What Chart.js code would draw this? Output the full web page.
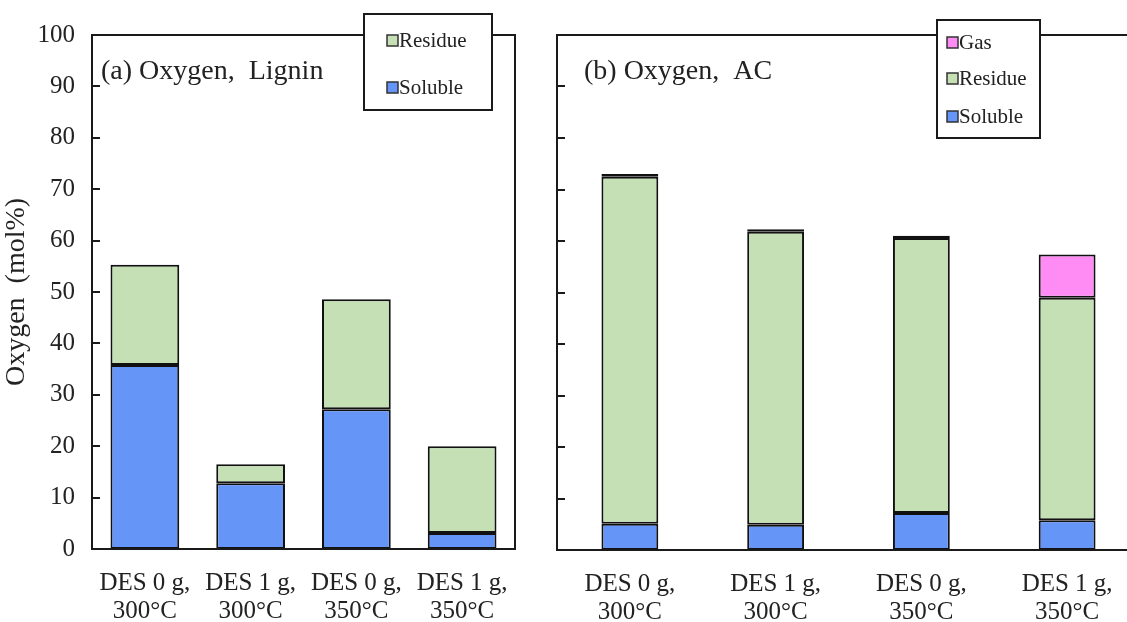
<!DOCTYPE html>
<html>
<head>
<meta charset="utf-8">
<script src="https://cdn.jsdelivr.net/npm/chart.js@4.4.1/dist/chart.umd.min.js"></script>
<style>
  html, body { margin: 0; padding: 0; background: #fff; overflow: hidden; }
  #wrap { position: relative; width: 1127px; height: 622px; overflow: hidden; }
  #boxA { position: absolute; left: 0; top: 0; width: 540px; height: 622px; }
  #boxB { position: absolute; left: 540px; top: 0; width: 625px; height: 622px; }
</style>
</head>
<body>
<div id="wrap">
  <div id="boxA"><canvas id="chartA"></canvas></div>
  <div id="boxB"><canvas id="chartB"></canvas></div>
</div>
<script>
// categories (two-line labels)
const categories = [
  ["DES 0 g,", "300\u00B0C"],
  ["DES 1 g,", "300\u00B0C"],
  ["DES 0 g,", "350\u00B0C"],
  ["DES 1 g,", "350\u00B0C"]
];
const yTicks = [0, 10, 20, 30, 40, 50, 60, 70, 80, 90, 100];

// (a) Lignin
const ligninSoluble = [35.8, 12.8, 27.2, 3.1];
const ligninResidue = [19.5, 3.7, 21.4, 16.9];

// (b) AC
const acSoluble = [5.1, 4.9, 7.2, 5.8];
const acResidue = [67.4, 56.9, 53.4, 43.2];
const acGas = [0.5, 0.5, 0.4, 8.4];

const colSoluble = "#6495f7";
const colResidue = "#c5e0b4";
const colGas = "#ff8cf4";
const serif = "'Liberation Serif', 'Times New Roman', serif";

Chart.defaults.font.family = serif;
Chart.defaults.color = "#222";

function ds(label, data, color) {
  return {
    label: label,
    data: data,
    backgroundColor: color,
    borderColor: "#111",
    borderWidth: 2,
    borderSkipped: false
  };
}

// frame, inward ticks, panel title and legend box
function panelPlugin(title, legendBox) {
  return {
    id: "panel",
    afterDraw(chart) {
      const c = chart.ctx;
      const a = chart.chartArea;
      const y = chart.scales.y;
      c.save();
      c.strokeStyle = "#1a1a1a";
      c.lineWidth = 2;
      c.strokeRect(a.left, a.top, a.right - a.left, a.bottom - a.top);
      yTicks.slice(1, -1).forEach(v => {
        const py = Math.round(y.getPixelForValue(v));
        c.beginPath();
        c.moveTo(a.left, py);
        c.lineTo(a.left + 8, py);
        c.stroke();
      });
      c.fillStyle = "#222";
      c.font = "28px " + serif;
      c.textBaseline = "middle";
      c.textAlign = "left";
      c.fillText(title.text, title.x, title.y);

      // legend box
      const L = legendBox;
      c.fillStyle = "#fff";
      c.fillRect(L.x, L.y, L.w, L.h);
      c.strokeStyle = "#1a1a1a";
      c.lineWidth = 2;
      c.strokeRect(L.x, L.y, L.w, L.h);
      const sets = chart.data.datasets.slice().reverse();
      c.font = "21px " + serif;
      sets.forEach((d, i) => {
        const cy = L.items[i];
        c.fillStyle = d.backgroundColor;
        c.fillRect(L.mx, cy - 5, 11, 11);
        c.lineWidth = 1.5;
        c.strokeStyle = "#333";
        c.strokeRect(L.mx, cy - 5, 11, 11);
        c.fillStyle = "#222";
        c.fillText(d.label, L.mx + 12, cy + 1);
      });
      c.restore();
    }
  };
}

function makeOptions(opts) {
  return {
    responsive: true,
    maintainAspectRatio: false,
    animation: false,
    layout: { padding: { top: 35, right: opts.padRight, left: 0, bottom: 0 } },
    plugins: { legend: { display: false }, tooltip: { enabled: false } },
    datasets: { bar: { barPercentage: opts.barPct, categoryPercentage: 1 } },
    scales: {
      x: {
        stacked: true,
        grid: { display: false, drawTicks: false },
        border: { display: false },
        ticks: {
          padding: 20,
          maxRotation: 0,
          autoSkip: false,
          color: "#222",
          font: { size: 25, lineHeight: 1.13 }
        },
        afterFit(s) { s.height = opts.bottomH; }
      },
      y: {
        stacked: true,
        min: 0,
        max: 100,
        grid: { display: false, drawTicks: false },
        border: { display: false },
        afterBuildTicks(s) { s.ticks = yTicks.map(v => ({ value: v })); },
        ticks: {
          display: opts.showY,
          padding: 17,
          color: "#222",
          font: { size: 25 }
        },
        title: {
          display: opts.showY,
          text: "Oxygen  (mol%)",
          color: "#222",
          font: { size: 28 },
          padding: { top: 0, bottom: 8 }
        },
        afterFit(s) { s.width = opts.leftW; }
      }
    }
  };
}

new Chart(document.getElementById("chartA"), {
  type: "bar",
  data: {
    labels: categories,
    datasets: [
      ds("Soluble", ligninSoluble, colSoluble),
      ds("Residue", ligninResidue, colResidue)
    ]
  },
  options: makeOptions({ padRight: 25, barPct: 0.65, bottomH: 73, leftW: 92, showY: true }),
  plugins: [panelPlugin(
    { text: "(a) Oxygen,  Lignin", x: 101, y: 72 },
    { x: 364, y: 14, w: 128, h: 96, mx: 387, items: [40, 87] }
  )]
});

new Chart(document.getElementById("chartB"), {
  type: "bar",
  data: {
    labels: categories,
    datasets: [
      ds("Soluble", acSoluble, colSoluble),
      ds("Residue", acResidue, colResidue),
      ds("Gas", acGas, colGas)
    ]
  },
  options: makeOptions({ padRight: 25, barPct: 0.39, bottomH: 72, leftW: 17, showY: false }),
  plugins: [panelPlugin(
    { text: "(b) Oxygen,  AC", x: 44, y: 72 },
    { x: 397, y: 20, w: 103, h: 118, mx: 407, items: [42, 78, 116] }
  )]
});
</script>
</body>
</html>
